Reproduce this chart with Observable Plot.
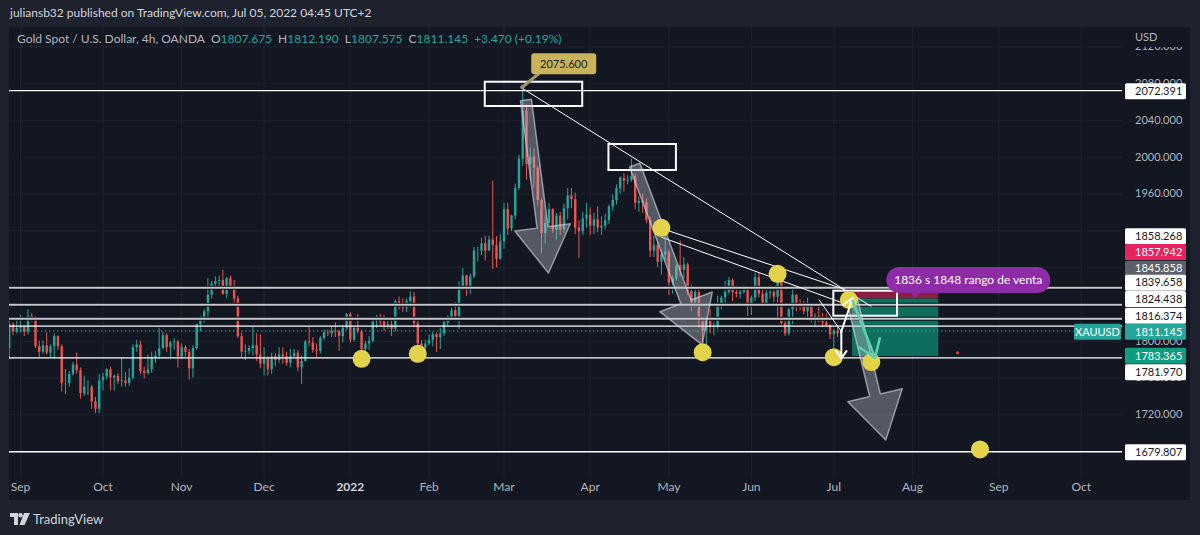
<!DOCTYPE html>
<html><head><meta charset="utf-8">
<script src="https://cdn.jsdelivr.net/npm/d3@7"></script>
<script src="https://cdn.jsdelivr.net/npm/@observablehq/plot@0.6"></script>
<style>
html,body{margin:0;padding:0;background:#1e222d;}
body{width:1200px;height:535px;overflow:hidden;position:relative;font-family:Lato,"Noto Sans",sans-serif;}
#hdr{position:absolute;left:10px;top:5px;font-size:12px;line-height:16px;color:#d1d4dc;white-space:nowrap;}
#pane{position:absolute;left:9px;top:27px;width:1181px;height:473px;background:#131722;}
#pane svg{position:absolute;left:0;top:0;}
#legend{position:absolute;left:8px;top:5px;font-size:12px;line-height:14px;color:#b2b5be;white-space:nowrap;}
#legend .v{color:#26a69a;}
#legend .g{margin-left:6px;}
#foot{position:absolute;left:10px;top:511px;font-size:13px;line-height:16px;color:#d1d4dc;white-space:nowrap;display:flex;align-items:center;}
</style></head><body>
<div id="hdr"></div>
<div id="pane"><div id="legend"></div></div>
<div id="foot"><svg width="20" height="12" viewBox="0 0 20 12" style="margin-right:3px"><path d="M0 0h8v12h-4v-8h-4z" fill="#d1d4dc"/><circle cx="10.5" cy="2.2" r="2.2" fill="#d1d4dc"/><path d="M14 0h6l-5.5 12h-5z" fill="#d1d4dc"/></svg><span>TradingView</span></div>
<script>
// ---------------- data ----------------
const headerText = "juliansb32 published on TradingView.com, Jul 05, 2022 04:45 UTC+2";
const symbolTitle = "Gold Spot / U.S. Dollar, 4h, OANDA";
const legendKeys = ["O", "H", "L", "C"];
const legendValues = [1807.675, 1812.190, 1807.575, 1811.145];
const changeText = "+3.470 (+0.19%)";

// daily candles (weekdays from 2021-08-27 to 2022-07-05)
const opens = [1792,1818,1810,1814,1815,1810,1827,1823,1794,1788,1795,1787,1794,1805,1794,1754,1754,1764,1774,1768,1743,1750,1750,1734,1726,
1757,1761,1769,1760,1762,1756,1757,1754,1760,1793,1796,1767,1765,1769,1782,1784,1792,1806,1793,1798,1799,
1783,1793,1788,1770,1792,1818,1825,1832,1850,1862,1865,1866,1851,1868,1859,1846,1805,1788,1789,1792,1795,1785,
1775,1781,1769,1783,1779,1785,1783,1776,1783,1787,1771,1778,1799,1798,1790,1789,1803,1809,1808,1811,1810,1805,1814,
1829,1801,1814,1810,1791,1797,1800,1821,1826,1821,1817,1818,1813,1843,1840,1836,1843,1848,1819,1797,1792,
1797,1801,1807,1804,1808,1820,1826,1833,1827,1859,1871,1855,1870,1898,1898,1906,1898,1910,1904,1889,
1908,1943,1922,1936,1966,1998,2050,1992,2000,1988,1953,1917,1928,1943,1921,1936,1921,1944,1958,1954,1923,1919,1933,
1937,1925,1932,1923,1925,1931,1946,1953,1966,1977,1974,1975,1979,1950,1952,1951,1931,1898,1904,1886,1894,
1897,1863,1868,1882,1877,1883,1854,1839,1853,1821,1811,1824,1815,1816,1841,1847,1853,1866,1853,1851,1853,1855,
1837,1847,1869,1851,1841,1852,1853,1848,1871,1819,1808,1834,1850,1840,1839,1832,1838,1822,1827,1822,1820,1817,
1807,1811,1808];
const highs = [1823,1820,1823,1828,1817,1834,1830,1827,1800,1800,1809,1796,1808,1806,1796,1769,1767,1777,1787,1771,1762,1757,1752,1739,1764,
1765,1770,1772,1763,1765,1782,1766,1770,1796,1801,1800,1772,1785,1788,1789,1814,1810,1808,1800,1803,1801,
1797,1795,1791,1795,1818,1827,1834,1868,1865,1870,1871,1877,1869,1871,1866,1849,1809,1796,1795,1815,1808,1807,
1793,1783,1787,1786,1793,1793,1788,1791,1791,1790,1784,1801,1815,1804,1797,1805,1812,1812,1815,1820,1812,1817,1830,
1831,1816,1829,1812,1800,1805,1823,1828,1829,1828,1823,1823,1845,1848,1846,1846,1854,1853,1822,1801,1801,
1807,1810,1809,1814,1823,1828,1836,1842,1865,1879,1872,1873,1902,1902,1912,1914,1914,1974,1914,1916,
1950,1950,1937,1971,2002,2075.6,2057,2010,2009,1990,1955,1936,1950,1944,1939,1940,1949,1966,1966,1961,1931,1940,1950,
1945,1939,1946,1935,1938,1948,1959,1970,1979,1982,1980,1998,1982,1957,1960,1955,1935,1914,1907,1899,1920,
1899,1871,1884,1909,1891,1885,1861,1859,1858,1826,1826,1834,1820,1849,1849,1865,1869,1868,1860,1858,1860,1857,
1849,1874,1874,1856,1855,1860,1857,1877,1878,1824,1836,1857,1851,1845,1843,1847,1839,1830,1841,1830,1829,1818,
1813,1815,1813];
const lows = [1780,1806,1808,1809,1805,1807,1821,1792,1782,1786,1785,1782,1781,1790,1745,1742,1750,1762,1764,1737,1740,1741,1726,1721,1721,
1746,1758,1746,1746,1753,1750,1750,1751,1758,1788,1764,1759,1763,1765,1776,1780,1791,1788,1782,1790,1771,
1780,1783,1758,1760,1790,1810,1820,1824,1846,1856,1857,1850,1846,1856,1838,1803,1782,1779,1785,1784,1778,1770,
1762,1762,1764,1772,1776,1775,1773,1771,1782,1767,1753,1777,1794,1787,1782,1786,1801,1805,1804,1804,1789,1798,1812,
1798,1799,1808,1785,1782,1790,1798,1814,1816,1811,1813,1805,1810,1834,1831,1831,1836,1815,1793,1780,1785,
1795,1794,1788,1791,1805,1816,1823,1822,1813,1855,1849,1851,1868,1886,1893,1887,1898,1878,1880,1888,
1900,1915,1919,1932,1964,1990,1975,1974,1966,1947,1895,1906,1925,1917,1910,1915,1917,1932,1944,1916,1890,1915,1923,
1915,1916,1918,1915,1921,1927,1941,1948,1960,1962,1970,1973,1943,1940,1939,1928,1891,1891,1880,1872,1888,
1850,1851,1865,1870,1868,1850,1832,1836,1814,1798,1787,1808,1806,1813,1834,1839,1851,1843,1847,1846,1851,1827,
1828,1843,1847,1837,1838,1846,1842,1825,1818,1805,1806,1818,1832,1833,1829,1826,1820,1816,1820,1815,1815,1802,
1784,1804,1803];
const closes = [1818,1810,1814,1815,1810,1827,1823,1794,1788,1795,1787,1794,1805,1794,1754,1754,1764,1774,1768,1743,1750,1750,1734,1726,1757,
1761,1769,1760,1762,1756,1757,1754,1760,1793,1796,1767,1765,1769,1782,1784,1792,1806,1793,1798,1799,1783,
1793,1788,1770,1792,1818,1825,1832,1850,1862,1865,1866,1851,1868,1859,1846,1805,1788,1789,1792,1795,1785,1775,
1781,1769,1783,1779,1785,1783,1776,1783,1787,1771,1778,1799,1798,1790,1789,1803,1809,1808,1811,1810,1805,1814,1829,
1801,1814,1810,1791,1797,1800,1821,1826,1821,1817,1818,1813,1843,1840,1836,1843,1848,1819,1797,1792,1797,
1801,1807,1804,1808,1820,1826,1833,1827,1859,1871,1855,1870,1898,1898,1906,1898,1910,1904,1889,1908,
1943,1922,1936,1966,1998,2050,1992,2000,1988,1953,1917,1928,1943,1921,1936,1921,1944,1958,1954,1923,1919,1933,1937,
1925,1932,1923,1925,1931,1946,1953,1966,1977,1974,1975,1979,1950,1952,1951,1931,1898,1904,1886,1894,1897,
1863,1868,1882,1877,1883,1854,1839,1853,1821,1811,1824,1815,1816,1841,1847,1853,1866,1853,1851,1853,1855,1837,
1847,1869,1851,1841,1852,1853,1848,1871,1819,1808,1834,1850,1840,1839,1832,1838,1822,1827,1822,1820,1817,1807,
1811,1808,1811.145];

// axis
const gridPrices = [1680,1720,1760,1800,1840,1880,1920,1960,2000,2040,2080,2120];
const tickLabelPrices = [1720,1760,1800,1960,2000,2040,2080,2120];
const monthDates = ["2021-09-01","2021-10-01","2021-11-01","2021-12-01","2022-01-03","2022-02-01","2022-03-01","2022-04-01","2022-05-02","2022-06-01","2022-07-01","2022-08-01","2022-09-01","2022-10-03"];
const monthLabels = ["Sep","Oct","Nov","Dec","2022","Feb","Mar","Apr","May","Jun","Jul","Aug","Sep","Oct"];

// drawings
const thickLevels = [1858.268, 1839.658, 1824.438];
const thinLevels = [2072.391, 1816.374, 1781.970, 1679.807];
const lastPrice = 1811.145;
const boxes = [
  {d1:"2022-02-22", d2:"2022-03-30", p1:2081.6, p2:2055.2},
  {d1:"2022-04-08", d2:"2022-05-04", p1:2013.9, p2:1985.6},
  {d1:"2022-07-01", d2:"2022-07-26", p1:1854.4, p2:1827.2}
];
const trendLines = [
  {d1:"2022-03-08", p1:2074.8, d2:"2022-07-15", p2:1837.8},
  {d1:"2022-04-28", p1:1922.6, d2:"2022-07-06", p2:1856.2},
  {d1:"2022-04-28", p1:1913.1, d2:"2022-07-06", p2:1840.7},
  {d1:"2022-06-27", p1:1845.4, d2:"2022-07-05", p2:1810.6}
];
const fatArrows = [
  {d1:"2022-03-09", p1:2061.7, d2:"2022-03-17", p2:1873.6},
  {d1:"2022-04-19", p1:1991.0, d2:"2022-05-13", p2:1795.4},
  {d1:"2022-07-08", p1:1844.3, d2:"2022-07-21", p2:1692.1}
];
const whiteArrows = [
  {d1:"2022-07-05", p1:1810.6, d2:"2022-07-08", p2:1847.0},
  {d1:"2022-07-05", p1:1810.6, d2:"2022-07-05", p2:1781.2}
];
const tealArrows = [{d1:"2022-07-08", p1:1844.3, d2:"2022-07-18", p2:1782.0}];
const circles = [
  {d:"2022-01-06", p:1780.9}, {d:"2022-01-27", p:1786.3}, {d:"2022-04-28", p:1923.3},
  {d:"2022-05-13", p:1788.0}, {d:"2022-06-10", p:1873.3}, {d:"2022-07-01", p:1782.7},
  {d:"2022-07-07", p:1845.0}, {d:"2022-07-15", p:1777.3}, {d:"2022-08-25", p:1682.3}
];
const position = {d1:"2022-07-08", d2:"2022-08-10", stop:1857.942, entry:1845.858, target:1783.365};
const marker = [{d:"2022-08-17", p:1787.4}];
const peakLabel = {d:"2022-03-08", p:2075.6, text:"2075.600"};
const noteLabel = {d:"2022-08-22", p:1866, text:"1836 s 1848 rango de venta"};
const axisLabels = [
  {p:2072.391, bg:"#ffffff", fg:"#131722", shift:1},
  {p:1858.268, bg:"#ffffff", fg:"#131722", shift:-51},
  {p:1857.942, bg:"#e8225f", fg:"#ffffff", shift:-35.4},
  {p:1845.858, bg:"#5d606b", fg:"#ffffff", shift:-29.9},
  {p:1839.658, bg:"#ffffff", fg:"#131722", shift:-21.6},
  {p:1824.438, bg:"#ffffff", fg:"#131722", shift:-19.3},
  {p:1816.374, bg:"#ffffff", fg:"#131722", shift:-10},
  {p:1811.145, bg:"#26a69a", fg:"#ffffff", shift:1.2},
  {p:1783.365, bg:"#0f9d7f", fg:"#ffffff", shift:-0.3},
  {p:1781.970, bg:"#ffffff", fg:"#131722", shift:15},
  {p:1679.807, bg:"#ffffff", fg:"#131722", shift:1}
];
const symbolTag = "XAUUSD";

// ---------------- helpers ----------------
const FONT = "Lato, 'Noto Sans', sans-serif";
const UP = "#26a69a", DOWN = "#ef5350";
const T0 = new Date(Date.UTC(2021, 8, 1));
const isWeekday = d => d.getUTCDay() % 6 !== 0;
function wd(s) {
  const d = new Date(s + "T00:00:00Z");
  return d >= T0 ? d3.utcDays(T0, d).filter(isWeekday).length : -d3.utcDays(d, T0).filter(isWeekday).length;
}
const tradingDays = d3.utcDays(new Date(Date.UTC(2021, 7, 27)), new Date(Date.UTC(2022, 6, 6))).filter(isWeekday);
const candles = tradingDays.map((d, k) => ({i: wd(d.toISOString().slice(0, 10)), o: opens[k], h: highs[k], l: lows[k], c: closes[k]}));
const upC = candles.filter(d => d.c >= d.o), downC = candles.filter(d => d.c < d.o);
const months = monthDates.map((d, k) => ({i: wd(d), label: monthLabels[k]}));

// header + legend
document.getElementById("hdr").textContent = headerText;
const lg = d3.select("#legend");
lg.append("span").text(symbolTitle);
legendKeys.forEach((k, j) => {
  const s = lg.append("span").attr("class", "g");
  s.append("span").text(k);
  s.append("span").attr("class", "v").text(legendValues[j].toFixed(3));
});
lg.append("span").attr("class", "g v").text(changeText);

// ---------------- custom marks ----------------
function fatArrowMark(index, scales) {
  const g = d3.create("svg:g");
  for (const a of fatArrows) {
    const x1 = scales.x(wd(a.d1)), y1 = scales.y(a.p1), x2 = scales.x(wd(a.d2)), y2 = scales.y(a.p2);
    const L = Math.hypot(x2 - x1, y2 - y1), ux = (x2 - x1) / L, uy = (y2 - y1) / L, nx = -uy, ny = ux;
    const h = 46, W = 28, w = 5.5;
    const bx = x2 - ux * h, by = y2 - uy * h;
    const pts = [[x1 + nx * w, y1 + ny * w], [bx + nx * w, by + ny * w], [bx + nx * W, by + ny * W], [x2, y2],
                 [bx - nx * W, by - ny * W], [bx - nx * w, by - ny * w], [x1 - nx * w, y1 - ny * w]];
    g.append("polygon").attr("points", pts.map(p => p.join(",")).join(" "))
      .attr("fill", "rgba(190,194,204,0.38)").attr("stroke", "rgba(215,218,226,0.6)")
      .attr("stroke-width", 1.5).attr("stroke-linejoin", "round");
  }
  return g.node();
}
function peakLabelMark(index, scales) {
  const g = d3.create("svg:g").attr("font-family", FONT);
  const x = scales.x(wd(peakLabel.d)), y = scales.y(peakLabel.p);
  g.append("line").attr("x1", x).attr("y1", y).attr("x2", x + 17).attr("y2", y - 14)
    .attr("stroke", "#9d956f").attr("stroke-width", 3);
  g.append("circle").attr("cx", x).attr("cy", y).attr("r", 2).attr("fill", "#9d956f");
  g.append("rect").attr("x", x + 9).attr("y", y - 34).attr("width", 65).attr("height", 21).attr("rx", 3).attr("fill", "#c9b35b");
  g.append("text").attr("x", x + 41.5).attr("y", y - 23.5).attr("dy", "0.35em").attr("text-anchor", "middle")
    .attr("font-size", 11).attr("fill", "#1b1c22").text(peakLabel.text);
  return g.node();
}
function noteMark(index, scales) {
  const g = d3.create("svg:g").attr("font-family", FONT);
  const x = scales.x(wd(noteLabel.d)), y = scales.y(noteLabel.p);
  g.append("path").attr("d", `M${x - 58},${y + 12} L${x - 48},${y + 12} L${x - 53},${y + 18} Z`).attr("fill", "#8e2ba6");
  g.append("rect").attr("x", x - 82).attr("y", y - 13).attr("width", 164).attr("height", 26).attr("rx", 13).attr("fill", "#8e2ba6");
  g.append("text").attr("x", x).attr("y", y).attr("dy", "0.35em").attr("text-anchor", "middle")
    .attr("font-size", 12).attr("fill", "#ffffff").text(noteLabel.text);
  return g.node();
}
function priceAxisMark(index, scales, values, dims) {
  const g = d3.create("svg:g").attr("font-family", FONT).attr("font-size", 11).attr("text-anchor", "start");
  const xr = dims.width - dims.marginRight;
  for (const p of tickLabelPrices) {
    g.append("text").attr("x", xr + 13).attr("y", scales.y(p)).attr("dy", "0.35em").attr("fill", "#b2b5be").text(p.toFixed(3));
  }
  g.append("rect").attr("x", xr + 1).attr("y", 0).attr("width", dims.marginRight - 1).attr("height", 20).attr("fill", "#131722");
  g.append("text").attr("x", xr + 13).attr("y", 10).attr("dy", "0.35em").attr("fill", "#b2b5be").text("USD");
  for (const a of axisLabels) {
    const y = scales.y(a.p) + a.shift;
    g.append("rect").attr("x", xr + 3).attr("y", y - 8).attr("width", 61).attr("height", 16).attr("rx", 1.5).attr("fill", a.bg);
    g.append("text").attr("x", xr + 13).attr("y", y).attr("dy", "0.35em").attr("fill", a.fg).text(a.p.toFixed(3));
    if (a.p === lastPrice) {
      g.append("rect").attr("x", xr - 48).attr("y", y - 8).attr("width", 47).attr("height", 16).attr("rx", 1.5).attr("fill", a.bg);
      g.append("text").attr("x", xr - 24.5).attr("y", y).attr("dy", "0.35em").attr("text-anchor", "middle")
        .attr("fill", "#ffffff").text(symbolTag);
    }
  }
  return g.node();
}

// ---------------- plot ----------------
const xy = (d1, p1, d2, p2) => ({x1: d => wd(d[d1]), y1: p1, x2: d => wd(d[d2]), y2: p2});
const chart = Plot.plot({
  width: 1181, height: 473,
  marginLeft: 0, marginRight: 68, marginTop: 0, marginBottom: 25,
  style: {background: "transparent", fontFamily: FONT},
  x: {type: "linear", domain: [-2.935, 294.02], axis: null},
  y: {type: "linear", domain: [1654, 2141.1], axis: null},
  marks: [
    Plot.ruleY(gridPrices, {stroke: "#1f2331", strokeWidth: 1}),
    Plot.ruleX(months, {x: "i", stroke: "#1f2331", strokeWidth: 1}),
    Plot.ruleX(upC, {x: "i", y1: "l", y2: "h", stroke: UP, strokeWidth: 1}),
    Plot.ruleX(downC, {x: "i", y1: "l", y2: "h", stroke: DOWN, strokeWidth: 1}),
    Plot.ruleX(upC, {x: "i", y1: "o", y2: "c", stroke: UP, strokeWidth: 2.4}),
    Plot.ruleX(downC, {x: "i", y1: "o", y2: "c", stroke: DOWN, strokeWidth: 2.4}),
    Plot.rect([position], {x1: d => wd(d.d1), x2: d => wd(d.d2), y1: "entry", y2: "stop", fill: "#8a1f40"}),
    Plot.rect([position], {x1: d => wd(d.d1), x2: d => wd(d.d2), y1: "target", y2: "entry", fill: "#0e6d5c"}),
    Plot.ruleY([lastPrice], {stroke: UP, strokeWidth: 1, strokeDasharray: "1.5,2.5"}),
    Plot.ruleY(thickLevels, {stroke: "#0a0c10", strokeWidth: 4}),
    Plot.ruleY(thickLevels, {stroke: "#c5c7cc", strokeWidth: 2}),
    Plot.ruleY(thinLevels, {stroke: "#ffffff", strokeWidth: 1.3}),
    Plot.rect(boxes, {...xy("d1", "p1", "d2", "p2"), fill: "none", stroke: "#ffffff", strokeWidth: 2}),
    Plot.link(trendLines, {...xy("d1", "p1", "d2", "p2"), stroke: "#ffffff", strokeWidth: 1}),
    fatArrowMark,
    Plot.dot(circles, {x: d => wd(d.d), y: "p", r: 9, fill: "#e3d34a"}),
    Plot.arrow(whiteArrows, {...xy("d1", "p1", "d2", "p2"), stroke: "#ffffff", strokeWidth: 2, headLength: 11, headAngle: 70}),
    Plot.arrow(tealArrows, {...xy("d1", "p1", "d2", "p2"), stroke: "#5fd0ae", strokeWidth: 2.5, headLength: 12, headAngle: 70}),
    Plot.dot(marker, {x: d => wd(d.d), y: "p", r: 1.5, fill: "#f23645"}),
    peakLabelMark,
    noteMark,
    Plot.text(months.filter(d => d.label !== "2022"), {x: "i", text: "label", frameAnchor: "bottom", dy: 15, fill: "#b2b5be", fontSize: 12, fontFamily: FONT}),
    Plot.text(months.filter(d => d.label === "2022"), {x: "i", text: "label", frameAnchor: "bottom", dy: 15, fill: "#d1d4dc", fontSize: 12, fontWeight: 700, fontFamily: FONT}),
    priceAxisMark
  ]
});
document.getElementById("pane").insertBefore(chart, document.getElementById("legend"));
</script>
</body></html>
